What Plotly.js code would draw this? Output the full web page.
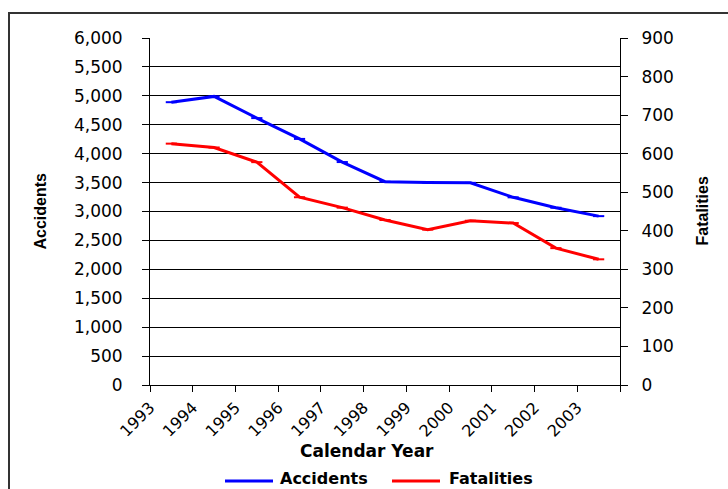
<!DOCTYPE html>
<html>
<head>
<meta charset="utf-8">
<script src="https://cdn.plot.ly/plotly-3.0.1.min.js"></script>
<style>
  html, body { margin: 0; padding: 0; background: #fff; }
  #wrap { position: relative; width: 728px; height: 489px; overflow: hidden; }
  #frame { position: absolute; left: 8px; top: 12px; width: 900px; height: 700px;
           border-top: 2px solid #333; border-left: 2px solid #333; pointer-events: none; }
  #chart { position: absolute; left: 0; top: 0; width: 728px; height: 489px; }
</style>
</head>
<body>
<div id="wrap">
  <div id="chart"></div>
  <div id="frame"></div>
</div>
<script>
const years = ["1993","1994","1995","1996","1997","1998","1999","2000","2001","2002","2003"];
const accidents = [4890, 4990, 4615, 4255, 3855, 3515, 3500, 3495, 3245, 3065, 2920];
const fatalities = [626, 616, 578, 487, 460, 428, 403, 426, 420, 355, 326];
const seriesNames = ["Accidents", "Fatalities"];
const seriesColors = ["#0000ff", "#ff0000"];

const xPos = years.map((y, i) => i + 0.5);
const tickVals = years.map((y, i) => i).concat([years.length]);
const tickText = years.concat([""]);

const tickFont = { family: "DejaVu Sans, Arial, sans-serif", size: 17, color: "#000" };
const xTickFont = { family: "DejaVu Sans, Arial, sans-serif", size: 16, color: "#000" };

const traces = [
  {
    x: xPos, y: accidents, name: seriesNames[0], type: "scatter", mode: "lines+markers",
    line: { color: seriesColors[0], width: 3 },
    marker: { symbol: "line-ew-open", size: 8, line: { color: seriesColors[0], width: 2 } },
    yaxis: "y"
  },
  {
    x: xPos, y: fatalities, name: seriesNames[1], type: "scatter", mode: "lines+markers",
    line: { color: seriesColors[1], width: 3 },
    marker: { symbol: "line-ew-open", size: 8, line: { color: seriesColors[1], width: 2 } },
    yaxis: "y2"
  }
];

// plot area geometry (pixels) used to place legend pieces in paper coords
const L = 150, R = 620, T = 38, B = 385;
const px = v => (v - L) / (R - L);
const py = v => (B - v) / (B - T);

const legendFont = { family: "DejaVu Sans, Arial, sans-serif", size: 16, color: "#000", weight: "bold" };
const legendItems = [
  { x0: 225, x1: 273, tx: 278 },
  { x0: 392, x1: 440, tx: 447 }
];

const shapes = legendItems.map((it, i) => ({
  type: "line", xref: "paper", yref: "paper",
  x0: px(it.x0), x1: px(it.x1), y0: py(481), y1: py(481),
  line: { color: seriesColors[i], width: 3 }
}));

const legendAnns = legendItems.map((it, i) => ({
  text: seriesNames[i], xref: "paper", yref: "paper", x: px(it.tx), y: py(478),
  xanchor: "left", yanchor: "middle", showarrow: false, font: legendFont
}));

const layout = {
  width: 728, height: 489,
  margin: { l: L, r: 728 - R, t: T, b: 489 - B },
  paper_bgcolor: "#fff", plot_bgcolor: "#fff",
  showlegend: false,
  xaxis: {
    range: [0, years.length], tickmode: "array", tickvals: tickVals, ticktext: tickText,
    tickangle: -45, ticks: "outside", ticklen: 6, tickcolor: "#000",
    showline: true, linecolor: "#000", linewidth: 1, showgrid: false, zeroline: false,
    tickfont: xTickFont, ticklabelstandoff: 0, fixedrange: true, automargin: false
  },
  yaxis: {
    range: [0, 6000], dtick: 500, tickformat: ",", ticks: "outside", ticklen: 7, tickcolor: "#000",
    showline: true, linecolor: "#000", linewidth: 1,
    showgrid: true, gridcolor: "#000", gridwidth: 1, zeroline: false,
    tickfont: tickFont, ticklabelstandoff: 16, fixedrange: true, automargin: false
  },
  yaxis2: {
    range: [0, 900], dtick: 100, overlaying: "y", side: "right",
    ticks: "outside", ticklen: 7, tickcolor: "#000",
    showline: true, linecolor: "#000", linewidth: 1, showgrid: false, zeroline: false,
    tickfont: tickFont, ticklabelstandoff: 10, fixedrange: true, automargin: false
  },
  shapes: shapes,
  annotations: [
    { text: "Accidents", xref: "paper", yref: "paper", x: px(40), y: 0.5,
      xanchor: "center", yanchor: "middle", textangle: -90, showarrow: false,
      font: { family: "Liberation Sans, Arial, sans-serif", size: 16, color: "#000", weight: "bold" } },
    { text: "Fatalities", xref: "paper", yref: "paper", x: px(702), y: 0.5,
      xanchor: "center", yanchor: "middle", textangle: -90, showarrow: false,
      font: { family: "Liberation Sans, Arial, sans-serif", size: 16, color: "#000", weight: "bold" } },
    { text: "Calendar Year", xref: "paper", yref: "paper", x: px(367), y: py(451),
      xanchor: "center", yanchor: "middle", showarrow: false,
      font: { family: "DejaVu Sans, Arial, sans-serif", size: 17, color: "#000", weight: "bold" } }
  ].concat(legendAnns)
};

Plotly.newPlot("chart", traces, layout, { displayModeBar: false, staticPlot: true });
</script>
</body>
</html>
